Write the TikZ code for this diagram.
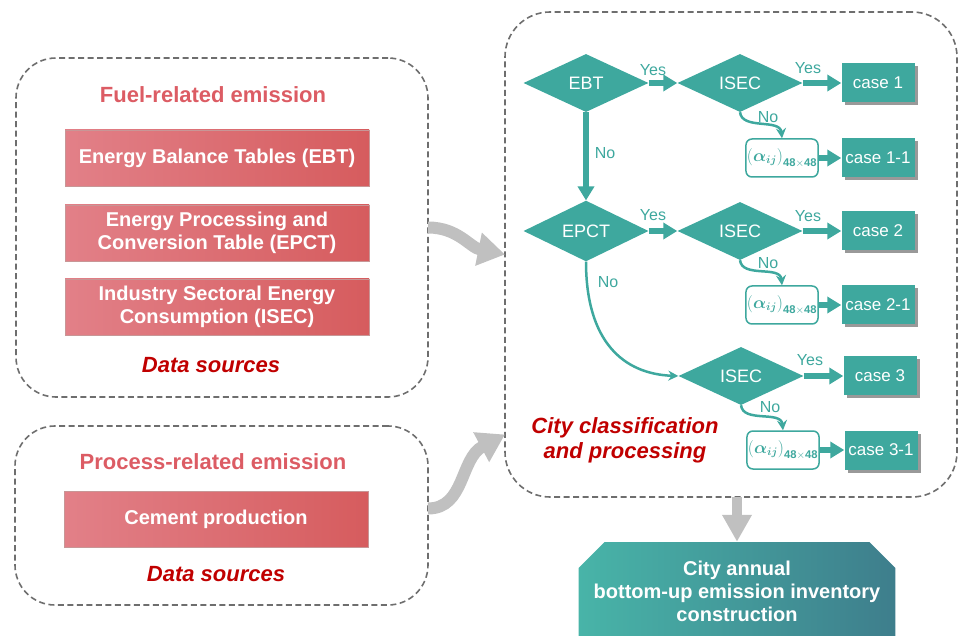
\documentclass[tikz,border=0pt]{standalone}
\usepackage{amsmath}
\usepackage{fontspec}
\setmainfont{Liberation Sans}
\usetikzlibrary{positioning,shapes.geometric,shapes.misc,arrows.meta,shadows}

\definecolor{tealbox}{RGB}{62,168,158}
\definecolor{dashgray}{RGB}{110,110,110}
\definecolor{srcpink}{RGB}{226,128,136}
\definecolor{srcred}{RGB}{214,92,94}
\definecolor{srcedge}{RGB}{200,150,150}
\definecolor{headred}{RGB}{220,92,100}
\definecolor{darkred}{RGB}{192,0,0}
\definecolor{arrowgray}{RGB}{192,192,192}
\definecolor{endleft}{RGB}{72,180,168}
\definecolor{endright}{RGB}{62,126,140}

\tikzset{
  region/.style={draw=dashgray, line width=1.6pt, dash pattern=on 6pt off 3.5pt,
    rounded corners=40pt, inner sep=0pt, outer sep=0pt},
  source/.style={draw=srcedge, left color=srcpink, right color=srcred,
    minimum width=304pt, minimum height=56pt, text=white, align=center,
    font=\fontsize{20}{23}\selectfont\bfseries},
  heading/.style={text=headred, font=\fontsize{22}{26}\selectfont\bfseries},
  note/.style={text=darkred, align=center, font=\fontsize{22}{25}\selectfont\bfseries\itshape},
  test/.style={diamond, fill=tealbox, text=white, minimum width=125pt,
    minimum height=58pt, inner sep=0pt, font=\fontsize{18}{21}\selectfont},
  casebox/.style={fill=tealbox, text=white, minimum width=73pt, minimum height=39pt,
    font=\fontsize{17}{20}\selectfont,
    drop shadow={shadow xshift=3pt, shadow yshift=-3pt, fill=black!40, opacity=1}},
  matbox/.style={draw=tealbox, line width=1.5pt, fill=white, rounded corners=6pt,
    minimum width=64pt, minimum height=38pt, inner sep=1pt, text=tealbox,
    font=\fontsize{16}{19}\selectfont},
  lab/.style={text=tealbox, font=\fontsize{16}{19}\selectfont},
  fat/.style={draw=tealbox, line width=5.5pt, -{Triangle[length=14pt,width=16pt]}},
  thin/.style={draw=tealbox, line width=2.5pt, -{Stealth[length=10pt,width=10pt]}},
  grey/.style={draw=arrowgray, line width=12pt, -{Triangle[length=27pt,width=32pt]}},
}

\newcommand{\alphamat}{$\left(\boldsymbol{\alpha}_{\boldsymbol{ij}}\right)_{\mathbf{48\times48}}$}

\begin{document}
\begin{tikzpicture}[x=1pt,y=-1pt]
            \useasboundingbox (0,0) rectangle (959,636);

            \node[region, minimum width=412pt, minimum height=339pt] (fuel) at (222,227.5) {};
            \node[region, minimum width=413pt, minimum height=179pt] (process) at (221.5,515.5) {};
            \node[region, rounded corners=45pt, minimum width=452pt, minimum height=485pt] (flow) at (731,254.5) {};

            \node[heading] (fuelhead) at (213,95) {Fuel-related emission};
            \node[source] (ebtsrc) at (217,158) {Energy Balance Tables (EBT)};
            \node[source] (epctsrc) at (217,233) {Energy Processing and\\Conversion Table (EPCT)};
            \node[source] (isecsrc) at (217,307) {Industry Sectoral Energy\\Consumption (ISEC)};
            \node[note] (fuelnote) at (211,365) {Data sources};

            \node[heading] (prochead) at (213,462) {Process-related emission};
            \node[source] (cement) at (216,519.5) {Cement production};
            \node[note] (procnote) at (216,574) {Data sources};

            \node[test] (ebt) at (586,83) {EBT};
            \node[test] (isec1) at (740,83) {ISEC};
            \node[casebox] (case1) at (878,83) {case 1};
            \node[matbox] (mat1) at (782,158) {\alphamat};
            \node[casebox] (case11) at (878,158) {case 1-1};

            \node[test] (epct) at (586,231) {EPCT};
            \node[test] (isec2) at (740,231) {ISEC};
            \node[casebox] (case2) at (878,231) {case 2};
            \node[matbox] (mat2) at (782,305) {\alphamat};
            \node[casebox] (case21) at (878,305) {case 2-1};

            \node[test] (isec3) at (741,376) {ISEC};
            \node[casebox] (case3) at (880,376) {case 3};
            \node[matbox] (mat3) at (783,450) {\alphamat};
            \node[casebox] (case31) at (881,450) {case 3-1};

            \node[note] (flownote) at (625,440) {City classification\\and processing};

            \node[lab] (yes1) at (653,70) {Yes};
            \node[lab] (yes2) at (808,68) {Yes};
            \node[lab] (no1) at (768,117) {No};
            \node[lab] (no2) at (605,153) {No};
            \node[lab] (yes3) at (653,215) {Yes};
            \node[lab] (yes4) at (808,216) {Yes};
            \node[lab] (no3) at (768,263) {No};
            \node[lab] (no4) at (608,282) {No};
            \node[lab] (yes5) at (810,360) {Yes};
            \node[lab] (no5) at (770,407) {No};

            \draw[fat] (ebt.east) -- (isec1.west);
            \draw[fat] (isec1.east) -- (case1.west);
            \draw[fat] (ebt.south) -- (epct.north);
            \draw[thin] (isec1.south) .. controls +(2,18) and +(-2,-20) .. (mat1.north);
            \draw[fat] (mat1.east) -- (case11.west);

            \draw[fat] (epct.east) -- (isec2.west);
            \draw[fat] (isec2.east) -- (case2.west);
            \draw[thin] (isec2.south) .. controls +(2,18) and +(-2,-20) .. (mat2.north);
            \draw[fat] (mat2.east) -- (case21.west);
            \draw[thin] (epct.south) .. controls +(0,80) and +(-55,-2) .. (isec3.west);

            \draw[fat] (isec3.east) -- (case3.west);
            \draw[thin] (isec3.south) .. controls +(2,18) and +(-2,-20) .. (mat3.north);
            \draw[fat] (mat3.east) -- (case31.west);

            \node[chamfered rectangle, chamfered rectangle xsep=13pt, chamfered rectangle ysep=13pt,
              left color=endleft, right color=endright, text=white, align=center,
              minimum width=315pt, minimum height=121pt, inner sep=2pt,
              font=\fontsize{20}{23}\selectfont\bfseries] (final) at (737,602.5)
              {City annual\\bottom-up emission inventory\\construction\\\mbox{}};

            \draw[grey] (fuel.east) .. controls +(30,0) and +(-35,-7) .. (flow.west);
            \draw[grey] ([yshift=7pt]process.east) .. controls +(37,0) and +(-45,24) .. ([yshift=-180pt]flow.west);
            \draw[draw=arrowgray, line width=10pt, -{Triangle[length=27pt,width=28pt]}] (final.north |- flow.south) -- (final.north);
          \end{tikzpicture}
\end{document}
